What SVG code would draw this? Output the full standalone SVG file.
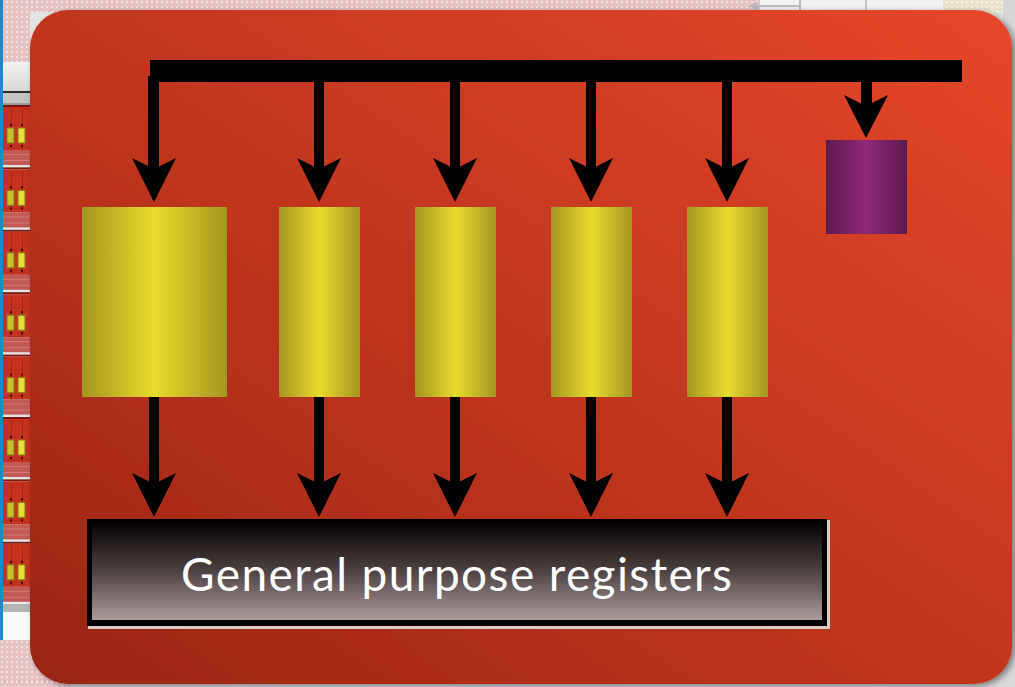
<svg xmlns="http://www.w3.org/2000/svg" width="1015" height="687" viewBox="0 0 1015 687">
  <defs>
    <!-- slide body: dark red bottom-left to orange top-right -->
    <linearGradient id="panel" x1="0" y1="1" x2="1" y2="0">
      <stop offset="0" stop-color="#9A2515"/>
      <stop offset="0.5" stop-color="#C1361F"/>
      <stop offset="1" stop-color="#E6472A"/>
    </linearGradient>
    <linearGradient id="yellow" x1="0" y1="0" x2="1" y2="0">
      <stop offset="0" stop-color="#A39620"/>
      <stop offset="0.5" stop-color="#E9DC2E"/>
      <stop offset="1" stop-color="#A39620"/>
    </linearGradient>
    <linearGradient id="purple" x1="0" y1="0" x2="1" y2="0">
      <stop offset="0" stop-color="#5C1A4A"/>
      <stop offset="0.5" stop-color="#8F2A7A"/>
      <stop offset="1" stop-color="#5C1A4A"/>
    </linearGradient>
    <linearGradient id="regfill" x1="0" y1="0" x2="0" y2="1">
      <stop offset="0" stop-color="#070303"/>
      <stop offset="0.5" stop-color="#4E4242"/>
      <stop offset="1" stop-color="#AD9B9B"/>
    </linearGradient>
    <linearGradient id="sidegrey" x1="0" y1="0" x2="0" y2="1">
      <stop offset="0" stop-color="#F2F2F2"/>
      <stop offset="1" stop-color="#D8D8D8"/>
    </linearGradient>
    <pattern id="dots" width="5" height="5" patternUnits="userSpaceOnUse">
      <rect width="5" height="5" fill="#E6C3C3"/>
      <rect x="1" y="1" width="2" height="2" fill="#F6E4E4"/>
    </pattern>
    <pattern id="beigedots" width="5" height="5" patternUnits="userSpaceOnUse">
      <rect width="5" height="5" fill="#EAE2CC"/>
      <rect x="1" y="1" width="2" height="2" fill="#F7F2E4"/>
    </pattern>
    <!-- one thumbnail unit of the slide strip -->
    <g id="stripUnit">
      <rect x="3" y="0" width="27" height="2" fill="#7A1810"/>
      <rect x="3" y="2" width="27" height="43" fill="#C4321E"/>
      <rect x="11" y="4" width="1" height="41" fill="#A02616"/>
      <rect x="22" y="4" width="1" height="41" fill="#A02616"/>
      <rect x="7" y="23" width="7" height="15" fill="#C8C22A" stroke="#8A7A14" stroke-width="1"/>
      <rect x="18" y="23" width="7" height="15" fill="#E4DE3A" stroke="#8A7A14" stroke-width="1"/>
      <rect x="10" y="19" width="2" height="2" fill="#3A0A06"/>
      <rect x="21" y="19" width="2" height="2" fill="#3A0A06"/>
      <rect x="10" y="40" width="2" height="2" fill="#3A0A06"/>
      <rect x="21" y="40" width="2" height="2" fill="#3A0A06"/>
      <rect x="3" y="45" width="27" height="15" fill="#C45A56"/>
      <rect x="3" y="49" width="27" height="1" fill="#D07A76"/>
      <rect x="3" y="55" width="27" height="1" fill="#D07A76"/>
    </g>
    <filter id="shadow" x="-5%" y="-5%" width="110%" height="110%">
      <feDropShadow dx="3" dy="2" stdDeviation="3" flood-color="#000" flood-opacity="0.45"/>
    </filter>
  </defs>
  <style>
    .bus { fill: #000; }
    .text { font-family: "Lato", "Liberation Sans", sans-serif; font-size: 46px; fill: #FFFFFF; }
  </style>

  <!-- surrounding application chrome -->
  <rect x="0" y="0" width="1015" height="687" fill="#E4E4E4"/>
  <rect x="0" y="0" width="760" height="12" fill="url(#dots)"/>
  <rect x="760" y="0" width="185" height="12" fill="#F2F2F2"/>
  <path d="M748 6 L758 2 L758 10 Z" fill="#B8B8B8"/>
  <rect x="758" y="5" width="42" height="2" fill="#BDBDBD"/>
  <rect x="799" y="0" width="2" height="10" fill="#BDBDBD"/>
  <rect x="865" y="0" width="2" height="12" fill="#C4C4C4"/>
  <rect x="943" y="0" width="60" height="12" fill="url(#beigedots)"/>
  <rect x="1003" y="0" width="12" height="687" fill="#D6D6D6"/>
  <rect x="30" y="650" width="985" height="37" fill="#D9D9D9"/>

  <!-- slide thumbnail strip on the left -->
  <rect x="0" y="0" width="3" height="687" fill="#1E88CC"/>
  <rect x="3" y="0" width="27" height="62" fill="url(#dots)"/>
  <rect x="3" y="62" width="27" height="29" fill="url(#sidegrey)"/>
  <rect x="3" y="91" width="27" height="2" fill="#2A2A2A"/>
  <rect x="3" y="93" width="27" height="10" fill="#C4C4C4"/>
  <rect x="3" y="103" width="27" height="2" fill="#9A9A9A"/>
  <use href="#stripUnit" y="105"/>
  <use href="#stripUnit" y="167.4"/>
  <use href="#stripUnit" y="229.8"/>
  <use href="#stripUnit" y="292.2"/>
  <use href="#stripUnit" y="354.6"/>
  <use href="#stripUnit" y="417"/>
  <use href="#stripUnit" y="479.4"/>
  <use href="#stripUnit" y="541.8"/>
  <rect x="3" y="602" width="27" height="2" fill="#E8E8E8"/>
  <rect x="3" y="604" width="27" height="8" fill="#B4B4B4"/>
  <rect x="3" y="612" width="27" height="28" fill="#FAFAFA"/>
  <rect x="0" y="640" width="70" height="47" fill="url(#dots)"/>

  <!-- slide body -->
  <rect x="30" y="10" width="982" height="674" rx="38" ry="38" fill="url(#panel)" filter="url(#shadow)"/>

  <!-- connectors: bus and arrows -->
  <g id="connectors">
    <rect class="bus" x="150" y="60" width="812" height="22"/>
    <rect class="bus" x="148" y="76" width="11" height="96"/>
    <rect class="bus" x="314" y="80" width="10" height="92"/>
    <rect class="bus" x="450" y="80" width="10" height="92"/>
    <rect class="bus" x="586" y="80" width="10" height="92"/>
    <rect class="bus" x="722" y="80" width="10" height="92"/>
    <rect class="bus" x="861" y="80" width="11" height="30"/>
    <polygon class="bus" points="132,158 154,202 176,158 154,169"/>
    <polygon class="bus" points="297,158 319,202 341,158 319,169"/>
    <polygon class="bus" points="433,158 455,202 477,158 455,169"/>
    <polygon class="bus" points="569,158 591,202 613,158 591,169"/>
    <polygon class="bus" points="705,158 727,202 749,158 727,169"/>
    <polygon class="bus" points="844,95 866,138 888,95 866,106"/>

    <rect class="bus" x="149" y="396" width="10" height="90"/>
    <rect class="bus" x="314" y="396" width="10" height="90"/>
    <rect class="bus" x="450" y="396" width="10" height="90"/>
    <rect class="bus" x="586" y="396" width="10" height="90"/>
    <rect class="bus" x="722" y="396" width="10" height="90"/>
    <polygon class="bus" points="132,473 154,517 176,473 154,484"/>
    <polygon class="bus" points="297,473 319,517 341,473 319,484"/>
    <polygon class="bus" points="433,473 455,517 477,473 455,484"/>
    <polygon class="bus" points="569,473 591,517 613,473 591,484"/>
    <polygon class="bus" points="705,473 727,517 749,473 727,484"/>
  </g>

  <!-- execution units -->
  <g id="unit-1"><rect x="82" y="207" width="145" height="190" fill="url(#yellow)"/></g>
  <g id="unit-2"><rect x="279" y="207" width="81" height="190" fill="url(#yellow)"/></g>
  <g id="unit-3"><rect x="415" y="207" width="81" height="190" fill="url(#yellow)"/></g>
  <g id="unit-4"><rect x="551" y="207" width="81" height="190" fill="url(#yellow)"/></g>
  <g id="unit-5"><rect x="687" y="207" width="81" height="190" fill="url(#yellow)"/></g>
  <g id="unit-6"><rect x="826" y="140" width="81" height="94" fill="url(#purple)"/></g>

  <!-- register file -->
  <g id="registers">
    <rect x="88" y="520" width="742" height="109" fill="#DCCBC6"/>
    <rect x="87" y="519" width="740" height="107" fill="#000"/>
    <rect x="92" y="523" width="730" height="97" fill="url(#regfill)"/>
    <text class="text" x="456.5" y="591" text-anchor="middle" textLength="551">General purpose registers</text>
  </g>
</svg>
